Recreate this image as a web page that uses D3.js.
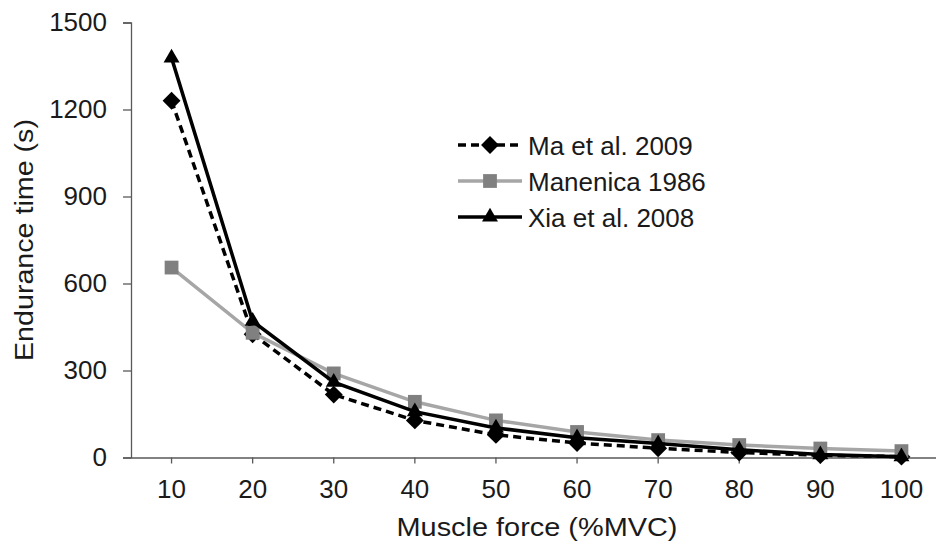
<!DOCTYPE html>
<html>
<head>
<meta charset="utf-8">
<script src="https://cdn.jsdelivr.net/npm/d3@7"></script>
<style>
  body { margin: 0; background: #fff; }
  text { font-family: "Liberation Sans", Arial, sans-serif; fill: #1a1a1a; }
</style>
</head>
<body>
<div id="chart"></div>
<script>
// Endurance time vs muscle force, three models
const forces = [10, 20, 30, 40, 50, 60, 70, 80, 90, 100];
const maEtAl = [1230, 425, 217, 128, 78, 50, 32, 17, 8, 3];
const manenica = [655, 430, 290, 192, 128, 88, 60, 43, 31, 22];
const xiaEtAl = [1378, 470, 260, 158, 102, 68, 48, 27, 10, 3];
const yTicks = [0, 300, 600, 900, 1200, 1500];

const seriesList = [
    { name: 'Ma et al. 2009', values: maEtAl, line: '#000', dash: '8,5', marker: 'diamond', fill: '#000' },
    { name: 'Manenica 1986', values: manenica, line: '#a6a6a6', dash: null, marker: 'square', fill: '#808080' },
    { name: 'Xia et al. 2008', values: xiaEtAl, line: '#000', dash: null, marker: 'triangle', fill: '#000' }
];

const width = 936, height = 542;
const margin = { top: 22.5, right: -6, bottom: 84.5, left: 131 };
const innerW = width - margin.left - margin.right;
const innerH = height - margin.top - margin.bottom;

const svg = d3.select('#chart').append('svg')
    .attr('width', width)
    .attr('height', height);

const g = svg.append('g')
    .attr('transform', `translate(${margin.left},${margin.top})`);

const x = d3.scaleBand().domain(forces).range([0, innerW]);
const y = d3.scaleLinear().domain([0, 1500]).range([innerH, 0]);
const xc = d => x(d) + x.bandwidth() / 2;

// axes
const yAxis = g.append('g')
    .call(d3.axisLeft(y).tickValues(yTicks).tickFormat(d3.format('d')).tickSize(8).tickPadding(16));
yAxis.select('.domain').attr('stroke', '#595959').attr('stroke-width', 1.3);
yAxis.selectAll('.tick line').attr('stroke', '#595959').attr('stroke-width', 1.3);
yAxis.selectAll('.tick text').style('font-size', '26px').attr('fill', '#1a1a1a');

const xAxis = g.append('g')
    .attr('transform', `translate(0,${innerH})`)
    .call(d3.axisBottom(x).tickSize(6).tickSizeOuter(0).tickPadding(16));
xAxis.select('.domain').attr('stroke', '#595959').attr('stroke-width', 1.3);
xAxis.selectAll('.tick line').attr('stroke', '#595959').attr('stroke-width', 1.3);
xAxis.selectAll('.tick text').style('font-size', '26px').attr('fill', '#1a1a1a');

// axis titles
svg.append('text')
    .attr('transform', 'translate(33,240) rotate(-90)')
    .attr('text-anchor', 'middle')
    .attr('textLength', 242)
    .attr('lengthAdjust', 'spacingAndGlyphs')
    .style('font-size', '26px')
    .text('Endurance time (s)');

svg.append('text')
    .attr('x', 537)
    .attr('y', 536)
    .attr('text-anchor', 'middle')
    .attr('textLength', 281)
    .attr('lengthAdjust', 'spacingAndGlyphs')
    .style('font-size', '26px')
    .text('Muscle force (%MVC)');

// markers
const symbols = {
    diamond: d3.symbol().type(d3.symbolSquare).size(160),
    square: d3.symbol().type(d3.symbolSquare).size(190),
    triangle: d3.symbol().type(d3.symbolTriangle).size(110)
};

function drawMarker(sel, s, cx, cy) {
    sel.append('path')
        .attr('d', symbols[s.marker]())
        .attr('transform', `translate(${cx},${cy})` + (s.marker === 'diamond' ? ' rotate(45)' : ''))
        .attr('fill', s.fill);
}

const line = d3.line()
    .x((d, i) => xc(forces[i]))
    .y(d => y(d));

seriesList.forEach(s => {
    g.append('path')
        .datum(s.values)
        .attr('d', line)
        .attr('fill', 'none')
        .attr('stroke', s.line)
        .attr('stroke-width', 3.5)
        .attr('stroke-dasharray', s.dash);
    s.values.forEach((v, i) => drawMarker(g, s, xc(forces[i]), y(v)));
});

// legend
const legend = svg.append('g').attr('transform', 'translate(458,145)');
seriesList.forEach((s, i) => {
    const row = legend.append('g').attr('transform', `translate(0,${i * 36})`);
    row.append('line')
        .attr('x1', 0).attr('x2', 64)
        .attr('stroke', s.line)
        .attr('stroke-width', 3.5)
        .attr('stroke-dasharray', s.dash);
    drawMarker(row, s, 32, 0);
    row.append('text')
        .attr('x', 70)
        .attr('y', 9.5)
        .style('font-size', '26px')
        .text(s.name);
});
</script>
</body>
</html>
